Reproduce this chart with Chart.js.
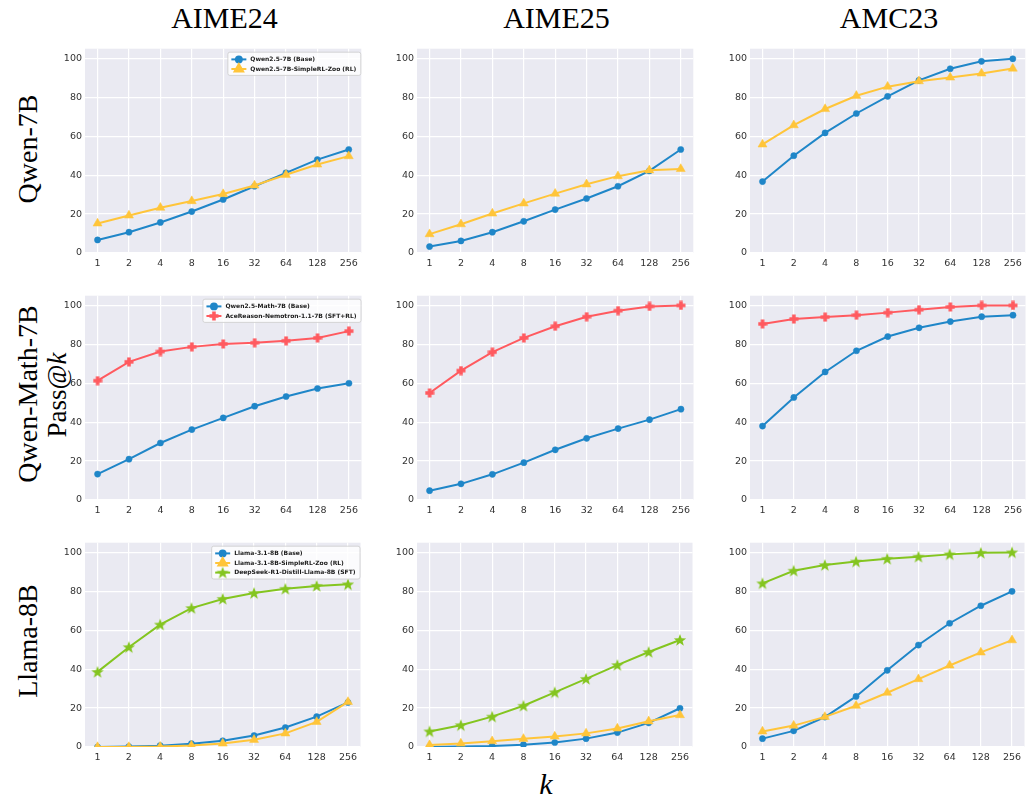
<!DOCTYPE html>
<html><head><meta charset="utf-8">
<script src="https://cdn.jsdelivr.net/npm/chart.js@4/dist/chart.umd.min.js"></script>
<style>
body{margin:0;background:#fff;width:1029px;height:799px;position:relative;overflow:hidden}
canvas{position:absolute}
.t{position:absolute;font-family:"Liberation Serif",serif;color:#000;white-space:nowrap;line-height:1}
.rot{transform:translate(-50%,-50%) rotate(-90deg)}
.hc{transform:translate(-50%,-50%)}
</style></head><body>
<div id="labels"></div>
<script>
// ---------- data ----------
const kLabels = ['1','2','4','8','16','32','64','128','256'];
const benchmarks = ['AIME24','AIME25','AMC23'];
const rowModels = ['Qwen-7B','Qwen-Math-7B','Llama-8B'];
const yTicks = [0,20,40,60,80,100];

const legendRow1 = ['Qwen2.5-7B (Base)','Qwen2.5-7B-SimpleRL-Zoo (RL)'];
const legendRow2 = ['Qwen2.5-Math-7B (Base)','AceReason-Nemotron-1.1-7B (SFT+RL)'];
const legendRow3 = ['Llama-3.1-8B (Base)','Llama-3.1-8B-SimpleRL-Zoo (RL)','DeepSeek-R1-Distill-Llama-8B (SFT)'];

// Row 1: Qwen-7B
const qwenBase_AIME24 = [6.7,10.7,15.7,21.3,27.5,34.3,41.2,48.0,53.2];
const qwenRL_AIME24   = [15.2,19.3,23.3,26.7,30.3,34.7,40.2,45.5,49.8];
const qwenBase_AIME25 = [3.3,6.2,10.7,16.3,22.3,28.0,34.3,42.2,53.2];
const qwenRL_AIME25   = [9.7,14.8,20.3,25.5,30.5,35.3,39.5,42.5,43.2];
const qwenBase_AMC23  = [36.7,50.0,61.7,71.7,80.5,88.7,94.7,98.5,99.8];
const qwenRL_AMC23    = [55.8,65.7,74.0,80.8,85.5,88.3,90.2,92.3,94.8];
// Row 2: Qwen-Math-7B
const mathBase_AIME24 = [13.3,21.0,29.3,36.2,42.2,48.2,53.2,57.3,60.0];
const aceRL_AIME24    = [61.3,71.0,76.3,78.7,80.2,80.8,81.8,83.3,86.8];
const mathBase_AIME25 = [4.8,8.3,13.2,19.2,25.8,31.7,36.7,41.3,46.7];
const aceRL_AIME25    = [55.0,66.5,76.0,83.3,89.3,94.2,97.3,99.5,100.0];
const mathBase_AMC23  = [38.0,52.7,65.8,76.7,84.0,88.5,91.7,94.2,95.0];
const aceRL_AMC23     = [90.5,93.0,94.0,95.0,96.3,97.8,99.2,100.0,100.0];
// Row 3: Llama-8B
const llamaBase_AIME24 = [0.0,0.2,0.7,1.7,3.2,5.9,10.0,15.6,22.9];
const llamaRL_AIME24   = [0.0,0.0,0.2,0.8,1.8,3.7,7.0,12.9,23.2];
const llamaSFT_AIME24  = [38.6,51.3,62.9,71.4,76.1,79.1,81.3,82.8,83.6];
const llamaBase_AIME25 = [0.0,0.2,0.5,1.2,2.3,4.3,7.4,12.4,19.9];
const llamaRL_AIME25   = [1.0,1.8,3.0,4.2,5.4,7.0,9.5,13.2,16.4];
const llamaSFT_AIME25  = [8.0,11.2,15.6,21.2,28.1,35.0,42.1,48.8,55.0];
const llamaBase_AMC23  = [4.3,8.3,15.4,26.0,39.4,52.4,63.6,72.6,80.0];
const llamaRL_AMC23    = [8.0,11.0,15.5,21.2,27.9,34.9,41.9,48.6,54.9];
const llamaSFT_AMC23   = [84.1,90.6,93.5,95.3,96.7,97.8,99.0,99.8,100.0];

// ---------- marker images ----------
function makeStar(color){
  const c=document.createElement('canvas');c.width=14;c.height=14;
  const g=c.getContext('2d');g.fillStyle=color;g.beginPath();
  for(let i=0;i<10;i++){const r=i%2?2.7:6.5;const a=-Math.PI/2+i*Math.PI/5;
    const x=7+r*Math.cos(a),y=7.4+r*Math.sin(a);i?g.lineTo(x,y):g.moveTo(x,y);}
  g.closePath();g.fill();return c;
}
function makePlus(color){
  const c=document.createElement('canvas');c.width=10;c.height=10;
  const g=c.getContext('2d');g.fillStyle=color;
  g.beginPath();
  const p=[[3.2,0.5],[6.8,0.5],[6.8,3.2],[9.5,3.2],[9.5,6.8],[6.8,6.8],[6.8,9.5],[3.2,9.5],[3.2,6.8],[0.5,6.8],[0.5,3.2],[3.2,3.2]];
  p.forEach((q,i)=>i?g.lineTo(q[0],q[1]):g.moveTo(q[0],q[1]));g.closePath();g.fill();return c;
}
const BLUE='#1f86c8', YELLOW='#ffc53a', RED='#ff5a5f', GREEN='#84c520';
const sBlue={color:BLUE,point:'circle',radius:3.1};
const sYellow={color:YELLOW,point:'triangle',radius:5.2};
const sRed={color:RED,point:makePlus(RED),radius:5};
const sGreen={color:GREEN,point:makeStar(GREEN),radius:6};

// ---------- layout ----------
const colLeft=[85,417,750], colW=[279,279,278];
const rowTop=[43,290,536.5], plotH=210;
const PADL=32, PADT=3, PADR=3, PADB=22;

const panels=[
 [[qwenBase_AIME24,qwenRL_AIME24],[qwenBase_AIME25,qwenRL_AIME25],[qwenBase_AMC23,qwenRL_AMC23]],
 [[mathBase_AIME24,aceRL_AIME24],[mathBase_AIME25,aceRL_AIME25],[mathBase_AMC23,aceRL_AMC23]],
 [[llamaBase_AIME24,llamaRL_AIME24,llamaSFT_AIME24],[llamaBase_AIME25,llamaRL_AIME25,llamaSFT_AIME25],[llamaBase_AMC23,llamaRL_AMC23,llamaSFT_AMC23]]
];
const rowStyles=[[sBlue,sYellow],[sBlue,sRed],[sBlue,sYellow,sGreen]];
const rowLegends=[legendRow1,legendRow2,legendRow3];

const bgPlugin={id:'bg',beforeDraw(ch){const a=ch.chartArea,c=ch.ctx;c.save();c.fillStyle='#eaeaf2';c.fillRect(a.left,a.top,a.right-a.left,a.bottom-a.top);c.restore();}};
const legPlugin={id:'leg',afterDraw(ch,args,opts){
  if(!opts.show)return;
  const c=ch.ctx,a=ch.chartArea;c.save();
  c.font='bold 6px "DejaVu Sans"';
  const ds=ch.data.datasets;
  let tw=0;ds.forEach(d=>tw=Math.max(tw,c.measureText(d.label).width));
  const pad=4,handle=15,gap=4,rowH=9.6;
  const w=pad+handle+gap+tw+pad, h=pad*0.6+rowH*ds.length+pad*0.4;
  const x=a.right-1-w, y=a.top+3;
  c.fillStyle='rgba(255,255,255,0.82)';c.strokeStyle='#cccccc';c.lineWidth=0.8;
  c.beginPath();c.roundRect(x+0.5,y+0.5,w,h,2);c.fill();c.stroke();
  ds.forEach((d,i)=>{
    const cy=y+pad*0.6+rowH*(i+0.5)+0.5;
    c.strokeStyle=d.borderColor;c.lineWidth=2;
    c.beginPath();c.moveTo(x+pad,cy);c.lineTo(x+pad+handle,cy);c.stroke();
    c.fillStyle=d.borderColor;c.strokeStyle=d.borderColor;
    Chart.helpers.drawPoint(c,{pointStyle:d.pointStyle,radius:d.pointRadius*0.95,rotation:0,borderWidth:0.5},x+pad+handle/2,cy);
    c.fillStyle='#1a1a1a';c.textBaseline='middle';c.textAlign='left';
    c.fillText(d.label,x+pad+handle+gap,cy+0.3);
  });
  c.restore();
}};

for(let r=0;r<3;r++)for(let col=0;col<3;col++){
  const cv=document.createElement('canvas');
  const W=colW[col]+PADL+PADR, H=plotH+PADT+PADB;
  cv.width=W;cv.height=H;
  cv.style.left=(colLeft[col]-PADL)+'px';cv.style.top=(rowTop[r]-PADT)+'px';
  cv.style.width=W+'px';cv.style.height=H+'px';
  document.body.appendChild(cv);
  const series=panels[r][col], styles=rowStyles[r], names=rowLegends[r];
  const datasets=series.map((vals,i)=>({
    label:names[i],
    data:vals.map((v,j)=>({x:j,y:v})),
    borderColor:styles[i].color,backgroundColor:styles[i].color,
    pointBackgroundColor:styles[i].color,pointBorderColor:styles[i].color,
    pointStyle:styles[i].point,pointRadius:styles[i].radius,pointBorderWidth:0.5,
    borderWidth:2,tension:0,order:series.length-i
  }));
  new Chart(cv,{type:'line',data:{datasets},plugins:[bgPlugin,legPlugin],
    options:{responsive:false,animation:false,devicePixelRatio:1,
      layout:{padding:{top:PADT,right:PADR,left:0,bottom:0}},
      plugins:{legend:{display:false},tooltip:{enabled:false},leg:{show:col===0}},
      scales:{
        x:{type:'linear',min:-0.4,max:8.4,
          afterBuildTicks:s=>{s.ticks=kLabels.map((_,i)=>({value:i}));},
          afterFit:s=>{s.height=PADB;},
          grid:{color:'#ffffff',lineWidth:1.2,drawTicks:false},border:{display:false},
          ticks:{callback:v=>kLabels[v],padding:5,maxRotation:0,autoSkip:false,color:'#333333',font:{family:'DejaVu Sans',size:9.5}}},
        y:{type:'linear',min:0,max:105,
          afterBuildTicks:s=>{s.ticks=yTicks.map(v=>({value:v}));},
          afterFit:s=>{s.width=PADL;},
          grid:{color:'#ffffff',lineWidth:1.2,drawTicks:false},border:{display:false},
          ticks:{padding:3,color:'#333333',font:{family:'DejaVu Sans',size:9.5}}}
      }}});
}

// ---------- text labels ----------
const L=document.getElementById('labels');
function addText(html,x,y,size,cls){const d=document.createElement('div');d.className='t '+cls;d.innerHTML=html;d.style.left=x+'px';d.style.top=y+'px';d.style.fontSize=size+'px';L.appendChild(d);}
benchmarks.forEach((b,i)=>addText(b,colLeft[i]+colW[i]/2,18,30,'hc'));
const rowCenters=[149,394,641];
rowModels.forEach((m,i)=>addText(m,28,rowCenters[i],28,'rot'));
addText('Pass@<i>k</i>',57,395,27,'rot');
addText('<i>k</i>',546,784,30,'hc');
</script>
</body></html>
